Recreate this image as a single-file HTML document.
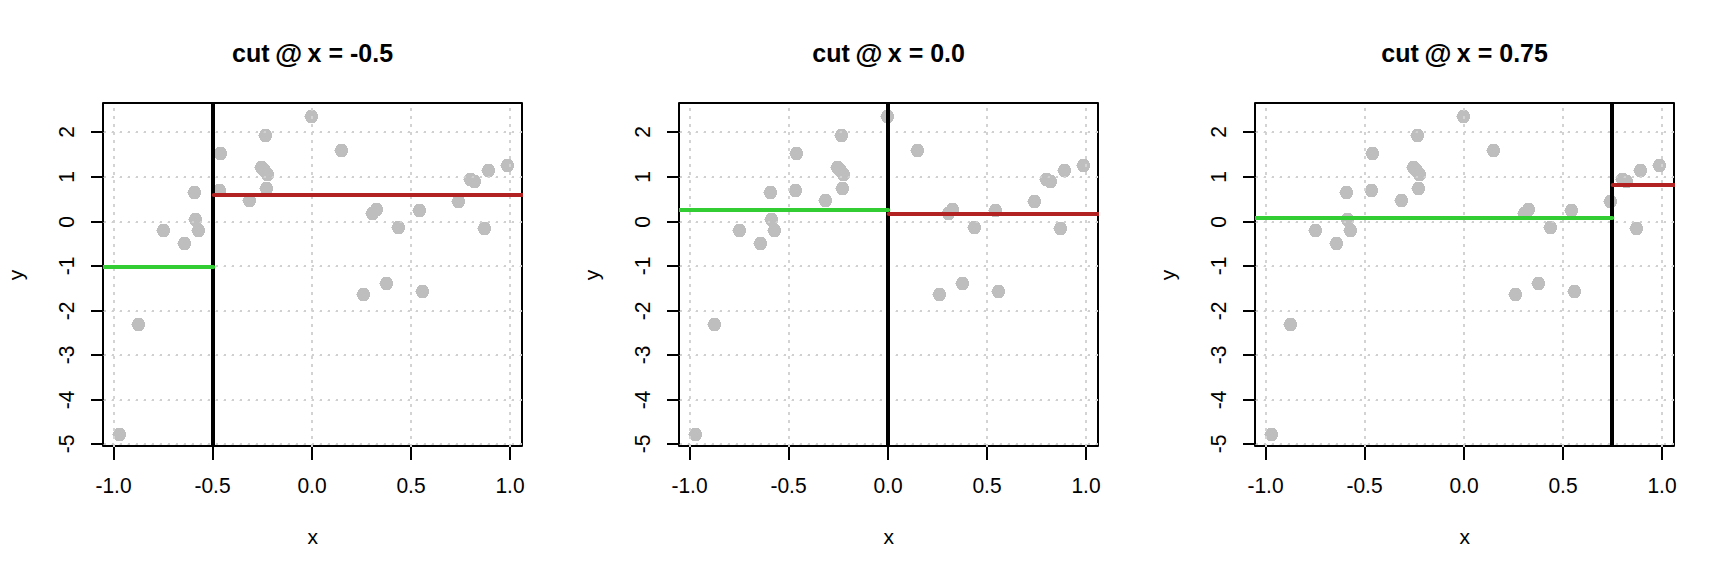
<!DOCTYPE html>
<html><head><meta charset="utf-8"><title>cut plots</title>
<style>
html,body{margin:0;padding:0;background:#fff;overflow:hidden;}
svg{display:block;}
text{font-family:"Liberation Sans",sans-serif;fill:#000;}
.t{font-size:25px;font-weight:bold;text-anchor:middle;}
.a{font-size:21px;text-anchor:middle;}
</style></head><body>
<svg width="1728" height="576" viewBox="0 0 1728 576">
<rect width="1728" height="576" fill="#fff"/>
<defs><g id="pt"><path d="M3 0h7v1h1v1h1v2h1v5h-1v2h-1v1h-1v1h-7v-1h-1v-1h-1v-2h-1v-5h1v-2h1v-1h1z"/><path d="M-1 6h1v1h-1z" opacity=".8"/></g><clipPath id="cp"><rect x="103" y="103" width="420" height="344"/></clipPath></defs>

<g transform="translate(0,0)">
<text class="t" x="312.6" y="62">cut <tspan font-size="28" dx="-1.5" dy="1.4">@</tspan><tspan dx="-1.7" dy="-1.4"> </tspan>x = -0.5</text>
<g clip-path="url(#cp)" fill="#BEBEBE" shape-rendering="crispEdges">
<use href="#pt" x="305" y="110"/>
<use href="#pt" x="259" y="129"/>
<use href="#pt" x="214" y="147"/>
<use href="#pt" x="335" y="144"/>
<use href="#pt" x="255" y="161"/>
<use href="#pt" x="258" y="164"/>
<use href="#pt" x="261" y="168"/>
<use href="#pt" x="260" y="182"/>
<use href="#pt" x="213" y="184"/>
<use href="#pt" x="188" y="186"/>
<use href="#pt" x="243" y="194"/>
<use href="#pt" x="189" y="213"/>
<use href="#pt" x="157" y="224"/>
<use href="#pt" x="192" y="224"/>
<use href="#pt" x="178" y="237"/>
<use href="#pt" x="132" y="318"/>
<use href="#pt" x="113" y="428"/>
<use href="#pt" x="501" y="159"/>
<use href="#pt" x="482" y="164"/>
<use href="#pt" x="464" y="173"/>
<use href="#pt" x="468" y="175"/>
<use href="#pt" x="452" y="195"/>
<use href="#pt" x="413" y="204"/>
<use href="#pt" x="370" y="203"/>
<use href="#pt" x="366" y="207"/>
<use href="#pt" x="392" y="221"/>
<use href="#pt" x="478" y="222"/>
<use href="#pt" x="416" y="285"/>
<use href="#pt" x="380" y="277"/>
<use href="#pt" x="357" y="288"/>
</g>
<rect x="103" y="103" width="419" height="343" fill="none" stroke="#000" stroke-width="2" stroke-linejoin="round"/>
<g stroke="#000" stroke-width="2">
<path d="M114 446V460"/>
<path d="M213 446V460"/>
<path d="M312 446V460"/>
<path d="M411 446V460"/>
<path d="M510 446V460"/>
<path d="M91 132H103"/>
<path d="M91 177H103"/>
<path d="M91 222H103"/>
<path d="M91 266H103"/>
<path d="M91 311H103"/>
<path d="M91 355H103"/>
<path d="M91 400H103"/>
<path d="M91 444H103"/>
</g>
<text class="a" transform="translate(113.5,492.5) scale(1,1.06)">-1.0</text>
<text class="a" transform="translate(212.5,492.5) scale(1,1.06)">-0.5</text>
<text class="a" transform="translate(312,492.5) scale(1,1.06)">0.0</text>
<text class="a" transform="translate(411,492.5) scale(1,1.06)">0.5</text>
<text class="a" transform="translate(510,492.5) scale(1,1.06)">1.0</text>
<text class="a" transform="translate(74.4,132) rotate(-90) scale(1,1.06)">2</text>
<text class="a" transform="translate(74.4,177) rotate(-90) scale(1,1.06)">1</text>
<text class="a" transform="translate(74.4,222) rotate(-90) scale(1,1.06)">0</text>
<text class="a" transform="translate(74.4,266) rotate(-90) scale(1,1.06)">-1</text>
<text class="a" transform="translate(74.4,311) rotate(-90) scale(1,1.06)">-2</text>
<text class="a" transform="translate(74.4,355) rotate(-90) scale(1,1.06)">-3</text>
<text class="a" transform="translate(74.4,400) rotate(-90) scale(1,1.06)">-4</text>
<text class="a" transform="translate(74.4,444) rotate(-90) scale(1,1.06)">-5</text>
<text class="a" x="312.8" y="544">x</text>
<text class="a" transform="translate(22.8,275) rotate(-90)">y</text>
<g clip-path="url(#cp)">
<g stroke="#D3D3D3" stroke-width="2" fill="none">
<path d="M114 447V103" stroke-dasharray="3 5"/>
<path d="M213 447V103" stroke-dasharray="3 5"/>
<path d="M312 447V103" stroke-dasharray="3 5"/>
<path d="M411 447V103" stroke-dasharray="3 5"/>
<path d="M510 447V103" stroke-dasharray="3 5"/>
<path d="M104 131.5H523" stroke-width="1" stroke="#D0D0D0" stroke-dasharray="2 6"/>
<path d="M103.5 132.5H523" stroke-width="1" stroke="#D0D0D0" stroke-dasharray="2.5 5.5"/>
<path d="M104 176.5H523" stroke-width="1" stroke="#D0D0D0" stroke-dasharray="2 6"/>
<path d="M103.5 177.5H523" stroke-width="1" stroke="#D0D0D0" stroke-dasharray="2.5 5.5"/>
<path d="M104 221.5H523" stroke-width="1" stroke="#D0D0D0" stroke-dasharray="2 6"/>
<path d="M103.5 222.5H523" stroke-width="1" stroke="#D0D0D0" stroke-dasharray="2.5 5.5"/>
<path d="M104 265.5H523" stroke-width="1" stroke="#D0D0D0" stroke-dasharray="2 6"/>
<path d="M103.5 266.5H523" stroke-width="1" stroke="#D0D0D0" stroke-dasharray="2.5 5.5"/>
<path d="M104 310.5H523" stroke-width="1" stroke="#D0D0D0" stroke-dasharray="2 6"/>
<path d="M103.5 311.5H523" stroke-width="1" stroke="#D0D0D0" stroke-dasharray="2.5 5.5"/>
<path d="M104 354.5H523" stroke-width="1" stroke="#D0D0D0" stroke-dasharray="2 6"/>
<path d="M103.5 355.5H523" stroke-width="1" stroke="#D0D0D0" stroke-dasharray="2.5 5.5"/>
<path d="M104 399.5H523" stroke-width="1" stroke="#D0D0D0" stroke-dasharray="2 6"/>
<path d="M103.5 400.5H523" stroke-width="1" stroke="#D0D0D0" stroke-dasharray="2.5 5.5"/>
<path d="M104 443.5H523" stroke-width="1" stroke="#D0D0D0" stroke-dasharray="2 6"/>
<path d="M103.5 444.5H523" stroke-width="1" stroke="#D0D0D0" stroke-dasharray="2.5 5.5"/>
</g>
<path d="M213 103V447" stroke="#000" stroke-width="4"/>
<path d="M99 267H213.3" stroke="#32CD32" stroke-width="4" stroke-linecap="round"/>
<path d="M213.7 195H527" stroke="#B22222" stroke-width="4" stroke-linecap="round"/>
</g>
</g>
<g transform="translate(576,0)">
<text class="t" x="312.6" y="62">cut <tspan font-size="28" dx="-1.5" dy="1.4">@</tspan><tspan dx="-1.7" dy="-1.4"> </tspan>x = 0.0</text>
<g clip-path="url(#cp)" fill="#BEBEBE" shape-rendering="crispEdges">
<use href="#pt" x="305" y="110"/>
<use href="#pt" x="259" y="129"/>
<use href="#pt" x="214" y="147"/>
<use href="#pt" x="335" y="144"/>
<use href="#pt" x="255" y="161"/>
<use href="#pt" x="258" y="164"/>
<use href="#pt" x="261" y="168"/>
<use href="#pt" x="260" y="182"/>
<use href="#pt" x="213" y="184"/>
<use href="#pt" x="188" y="186"/>
<use href="#pt" x="243" y="194"/>
<use href="#pt" x="189" y="213"/>
<use href="#pt" x="157" y="224"/>
<use href="#pt" x="192" y="224"/>
<use href="#pt" x="178" y="237"/>
<use href="#pt" x="132" y="318"/>
<use href="#pt" x="113" y="428"/>
<use href="#pt" x="501" y="159"/>
<use href="#pt" x="482" y="164"/>
<use href="#pt" x="464" y="173"/>
<use href="#pt" x="468" y="175"/>
<use href="#pt" x="452" y="195"/>
<use href="#pt" x="413" y="204"/>
<use href="#pt" x="370" y="203"/>
<use href="#pt" x="366" y="207"/>
<use href="#pt" x="392" y="221"/>
<use href="#pt" x="478" y="222"/>
<use href="#pt" x="416" y="285"/>
<use href="#pt" x="380" y="277"/>
<use href="#pt" x="357" y="288"/>
</g>
<rect x="103" y="103" width="419" height="343" fill="none" stroke="#000" stroke-width="2" stroke-linejoin="round"/>
<g stroke="#000" stroke-width="2">
<path d="M114 446V460"/>
<path d="M213 446V460"/>
<path d="M312 446V460"/>
<path d="M411 446V460"/>
<path d="M510 446V460"/>
<path d="M91 132H103"/>
<path d="M91 177H103"/>
<path d="M91 222H103"/>
<path d="M91 266H103"/>
<path d="M91 311H103"/>
<path d="M91 355H103"/>
<path d="M91 400H103"/>
<path d="M91 444H103"/>
</g>
<text class="a" transform="translate(113.5,492.5) scale(1,1.06)">-1.0</text>
<text class="a" transform="translate(212.5,492.5) scale(1,1.06)">-0.5</text>
<text class="a" transform="translate(312,492.5) scale(1,1.06)">0.0</text>
<text class="a" transform="translate(411,492.5) scale(1,1.06)">0.5</text>
<text class="a" transform="translate(510,492.5) scale(1,1.06)">1.0</text>
<text class="a" transform="translate(74.4,132) rotate(-90) scale(1,1.06)">2</text>
<text class="a" transform="translate(74.4,177) rotate(-90) scale(1,1.06)">1</text>
<text class="a" transform="translate(74.4,222) rotate(-90) scale(1,1.06)">0</text>
<text class="a" transform="translate(74.4,266) rotate(-90) scale(1,1.06)">-1</text>
<text class="a" transform="translate(74.4,311) rotate(-90) scale(1,1.06)">-2</text>
<text class="a" transform="translate(74.4,355) rotate(-90) scale(1,1.06)">-3</text>
<text class="a" transform="translate(74.4,400) rotate(-90) scale(1,1.06)">-4</text>
<text class="a" transform="translate(74.4,444) rotate(-90) scale(1,1.06)">-5</text>
<text class="a" x="312.8" y="544">x</text>
<text class="a" transform="translate(22.8,275) rotate(-90)">y</text>
<g clip-path="url(#cp)">
<g stroke="#D3D3D3" stroke-width="2" fill="none">
<path d="M114 447V103" stroke-dasharray="3 5"/>
<path d="M213 447V103" stroke-dasharray="3 5"/>
<path d="M312 447V103" stroke-dasharray="3 5"/>
<path d="M411 447V103" stroke-dasharray="3 5"/>
<path d="M510 447V103" stroke-dasharray="3 5"/>
<path d="M104 131.5H523" stroke-width="1" stroke="#D0D0D0" stroke-dasharray="2 6"/>
<path d="M103.5 132.5H523" stroke-width="1" stroke="#D0D0D0" stroke-dasharray="2.5 5.5"/>
<path d="M104 176.5H523" stroke-width="1" stroke="#D0D0D0" stroke-dasharray="2 6"/>
<path d="M103.5 177.5H523" stroke-width="1" stroke="#D0D0D0" stroke-dasharray="2.5 5.5"/>
<path d="M104 221.5H523" stroke-width="1" stroke="#D0D0D0" stroke-dasharray="2 6"/>
<path d="M103.5 222.5H523" stroke-width="1" stroke="#D0D0D0" stroke-dasharray="2.5 5.5"/>
<path d="M104 265.5H523" stroke-width="1" stroke="#D0D0D0" stroke-dasharray="2 6"/>
<path d="M103.5 266.5H523" stroke-width="1" stroke="#D0D0D0" stroke-dasharray="2.5 5.5"/>
<path d="M104 310.5H523" stroke-width="1" stroke="#D0D0D0" stroke-dasharray="2 6"/>
<path d="M103.5 311.5H523" stroke-width="1" stroke="#D0D0D0" stroke-dasharray="2.5 5.5"/>
<path d="M104 354.5H523" stroke-width="1" stroke="#D0D0D0" stroke-dasharray="2 6"/>
<path d="M103.5 355.5H523" stroke-width="1" stroke="#D0D0D0" stroke-dasharray="2.5 5.5"/>
<path d="M104 399.5H523" stroke-width="1" stroke="#D0D0D0" stroke-dasharray="2 6"/>
<path d="M103.5 400.5H523" stroke-width="1" stroke="#D0D0D0" stroke-dasharray="2.5 5.5"/>
<path d="M104 443.5H523" stroke-width="1" stroke="#D0D0D0" stroke-dasharray="2 6"/>
<path d="M103.5 444.5H523" stroke-width="1" stroke="#D0D0D0" stroke-dasharray="2.5 5.5"/>
</g>
<path d="M312 103V447" stroke="#000" stroke-width="4"/>
<path d="M99 210H312.3" stroke="#32CD32" stroke-width="4" stroke-linecap="round"/>
<path d="M312.7 214H527" stroke="#B22222" stroke-width="4" stroke-linecap="round"/>
</g>
</g>
<g transform="translate(1152,0)">
<text class="t" x="312.6" y="62">cut <tspan font-size="28" dx="-1.5" dy="1.4">@</tspan><tspan dx="-1.7" dy="-1.4"> </tspan>x = 0.75</text>
<g clip-path="url(#cp)" fill="#BEBEBE" shape-rendering="crispEdges">
<use href="#pt" x="305" y="110"/>
<use href="#pt" x="259" y="129"/>
<use href="#pt" x="214" y="147"/>
<use href="#pt" x="335" y="144"/>
<use href="#pt" x="255" y="161"/>
<use href="#pt" x="258" y="164"/>
<use href="#pt" x="261" y="168"/>
<use href="#pt" x="260" y="182"/>
<use href="#pt" x="213" y="184"/>
<use href="#pt" x="188" y="186"/>
<use href="#pt" x="243" y="194"/>
<use href="#pt" x="189" y="213"/>
<use href="#pt" x="157" y="224"/>
<use href="#pt" x="192" y="224"/>
<use href="#pt" x="178" y="237"/>
<use href="#pt" x="132" y="318"/>
<use href="#pt" x="113" y="428"/>
<use href="#pt" x="501" y="159"/>
<use href="#pt" x="482" y="164"/>
<use href="#pt" x="464" y="173"/>
<use href="#pt" x="468" y="175"/>
<use href="#pt" x="452" y="195"/>
<use href="#pt" x="413" y="204"/>
<use href="#pt" x="370" y="203"/>
<use href="#pt" x="366" y="207"/>
<use href="#pt" x="392" y="221"/>
<use href="#pt" x="478" y="222"/>
<use href="#pt" x="416" y="285"/>
<use href="#pt" x="380" y="277"/>
<use href="#pt" x="357" y="288"/>
</g>
<rect x="103" y="103" width="419" height="343" fill="none" stroke="#000" stroke-width="2" stroke-linejoin="round"/>
<g stroke="#000" stroke-width="2">
<path d="M114 446V460"/>
<path d="M213 446V460"/>
<path d="M312 446V460"/>
<path d="M411 446V460"/>
<path d="M510 446V460"/>
<path d="M91 132H103"/>
<path d="M91 177H103"/>
<path d="M91 222H103"/>
<path d="M91 266H103"/>
<path d="M91 311H103"/>
<path d="M91 355H103"/>
<path d="M91 400H103"/>
<path d="M91 444H103"/>
</g>
<text class="a" transform="translate(113.5,492.5) scale(1,1.06)">-1.0</text>
<text class="a" transform="translate(212.5,492.5) scale(1,1.06)">-0.5</text>
<text class="a" transform="translate(312,492.5) scale(1,1.06)">0.0</text>
<text class="a" transform="translate(411,492.5) scale(1,1.06)">0.5</text>
<text class="a" transform="translate(510,492.5) scale(1,1.06)">1.0</text>
<text class="a" transform="translate(74.4,132) rotate(-90) scale(1,1.06)">2</text>
<text class="a" transform="translate(74.4,177) rotate(-90) scale(1,1.06)">1</text>
<text class="a" transform="translate(74.4,222) rotate(-90) scale(1,1.06)">0</text>
<text class="a" transform="translate(74.4,266) rotate(-90) scale(1,1.06)">-1</text>
<text class="a" transform="translate(74.4,311) rotate(-90) scale(1,1.06)">-2</text>
<text class="a" transform="translate(74.4,355) rotate(-90) scale(1,1.06)">-3</text>
<text class="a" transform="translate(74.4,400) rotate(-90) scale(1,1.06)">-4</text>
<text class="a" transform="translate(74.4,444) rotate(-90) scale(1,1.06)">-5</text>
<text class="a" x="312.8" y="544">x</text>
<text class="a" transform="translate(22.8,275) rotate(-90)">y</text>
<g clip-path="url(#cp)">
<g stroke="#D3D3D3" stroke-width="2" fill="none">
<path d="M114 447V103" stroke-dasharray="3 5"/>
<path d="M213 447V103" stroke-dasharray="3 5"/>
<path d="M312 447V103" stroke-dasharray="3 5"/>
<path d="M411 447V103" stroke-dasharray="3 5"/>
<path d="M510 447V103" stroke-dasharray="3 5"/>
<path d="M104 131.5H523" stroke-width="1" stroke="#D0D0D0" stroke-dasharray="2 6"/>
<path d="M103.5 132.5H523" stroke-width="1" stroke="#D0D0D0" stroke-dasharray="2.5 5.5"/>
<path d="M104 176.5H523" stroke-width="1" stroke="#D0D0D0" stroke-dasharray="2 6"/>
<path d="M103.5 177.5H523" stroke-width="1" stroke="#D0D0D0" stroke-dasharray="2.5 5.5"/>
<path d="M104 221.5H523" stroke-width="1" stroke="#D0D0D0" stroke-dasharray="2 6"/>
<path d="M103.5 222.5H523" stroke-width="1" stroke="#D0D0D0" stroke-dasharray="2.5 5.5"/>
<path d="M104 265.5H523" stroke-width="1" stroke="#D0D0D0" stroke-dasharray="2 6"/>
<path d="M103.5 266.5H523" stroke-width="1" stroke="#D0D0D0" stroke-dasharray="2.5 5.5"/>
<path d="M104 310.5H523" stroke-width="1" stroke="#D0D0D0" stroke-dasharray="2 6"/>
<path d="M103.5 311.5H523" stroke-width="1" stroke="#D0D0D0" stroke-dasharray="2.5 5.5"/>
<path d="M104 354.5H523" stroke-width="1" stroke="#D0D0D0" stroke-dasharray="2 6"/>
<path d="M103.5 355.5H523" stroke-width="1" stroke="#D0D0D0" stroke-dasharray="2.5 5.5"/>
<path d="M104 399.5H523" stroke-width="1" stroke="#D0D0D0" stroke-dasharray="2 6"/>
<path d="M103.5 400.5H523" stroke-width="1" stroke="#D0D0D0" stroke-dasharray="2.5 5.5"/>
<path d="M104 443.5H523" stroke-width="1" stroke="#D0D0D0" stroke-dasharray="2 6"/>
<path d="M103.5 444.5H523" stroke-width="1" stroke="#D0D0D0" stroke-dasharray="2.5 5.5"/>
</g>
<path d="M460 103V447" stroke="#000" stroke-width="4"/>
<path d="M99 218H460.3" stroke="#32CD32" stroke-width="4" stroke-linecap="round"/>
<path d="M460.7 185H527" stroke="#B22222" stroke-width="4" stroke-linecap="round"/>
</g>
</g>
</svg></body></html>
